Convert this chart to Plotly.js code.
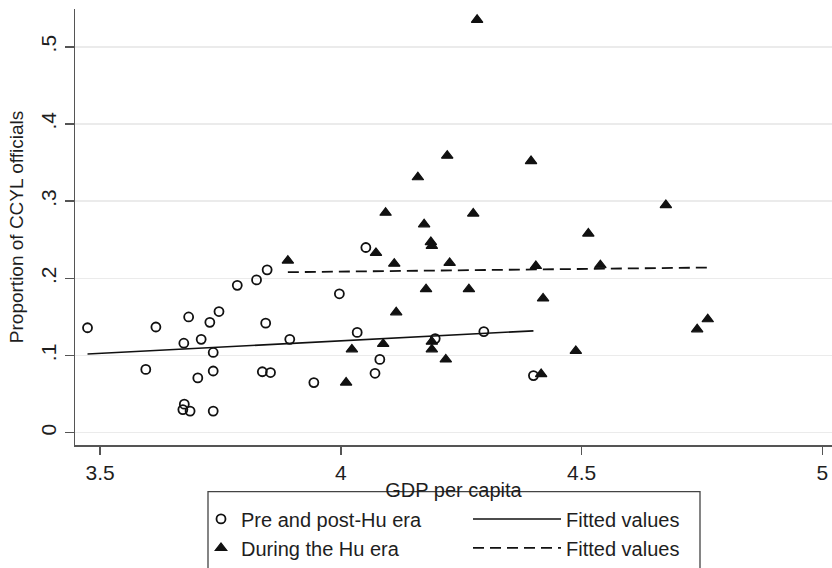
<!DOCTYPE html>
<html>
<head>
<meta charset="utf-8">
<script src="https://cdn.plot.ly/plotly-3.0.1.min.js"></script>
<style>html,body{margin:0;padding:0;background:#fff;}#chart{width:832px;height:568px;}</style>
</head>
<body>
<div id="chart"></div>
<script>
// Pre and post-Hu era (circles)
const preX = [3.474, 3.616, 3.595, 3.684, 3.674, 3.710, 3.728, 3.747, 3.735, 3.735, 3.703, 3.675, 3.672, 3.687, 3.735,
              3.785, 3.825, 3.847, 3.844, 3.894, 3.837, 3.854, 3.944, 3.997, 4.052, 4.034, 4.081, 4.071, 4.196, 4.297, 4.400];
const preY = [0.136, 0.137, 0.082, 0.150, 0.116, 0.121, 0.143, 0.157, 0.104, 0.080, 0.071, 0.037, 0.030, 0.028, 0.028,
              0.191, 0.198, 0.211, 0.142, 0.121, 0.079, 0.078, 0.065, 0.180, 0.240, 0.130, 0.095, 0.077, 0.122, 0.131, 0.074];
// During the Hu era (triangles)
const huX = [4.283, 4.221, 4.395, 4.160, 4.093, 4.275, 4.173, 4.187, 4.189, 4.073, 4.111, 4.226, 4.405, 4.177, 4.266,
             4.420, 4.115, 4.088, 4.023, 4.189, 4.189, 4.218, 4.011, 4.416, 3.890, 4.675, 4.514, 4.539, 4.762, 4.740, 4.488];
const huY = [0.535, 0.359, 0.352, 0.331, 0.285, 0.284, 0.270, 0.247, 0.242, 0.233, 0.219, 0.220, 0.216, 0.186, 0.186,
             0.174, 0.156, 0.115, 0.108, 0.118, 0.108, 0.095, 0.065, 0.076, 0.223, 0.295, 0.258, 0.217, 0.147, 0.134, 0.106];
// Fitted values
const fitPreX = [3.474, 4.400];
const fitPreY = [0.102, 0.132];
const fitHuX = [3.890, 4.762];
const fitHuY = [0.208, 0.214];
// Tick labels
const xTickVals = [3.5, 4, 4.5, 5];
const xTickText = ['3.5', '4', '4.5', '5'];
const yTickVals = [0, 0.1, 0.2, 0.3, 0.4, 0.5];
const yTickText = ['0', '.1', '.2', '.3', '.4', '.5'];

const FONT = 'Liberation Sans, Arial, Helvetica, sans-serif';
const TXT = '#1e1e1e';

const traces = [
  {x: fitPreX, y: fitPreY, type: 'scatter', mode: 'lines', name: 'Fitted values',
   line: {color: '#111', width: 1.6}, legend: 'legend2', legendrank: 1},
  {x: fitHuX, y: fitHuY, type: 'scatter', mode: 'lines', name: 'Fitted values',
   line: {color: '#111', width: 1.8, dash: '11px,6px'}, legend: 'legend2', legendrank: 2},
  {x: preX, y: preY, type: 'scatter', mode: 'markers', name: 'Pre and post-Hu era',
   marker: {symbol: 'circle-open', size: 9, color: '#111', line: {width: 1.8, color: '#111'}}, legendrank: 1},
  {x: huX, y: huY, type: 'scatter', mode: 'markers', name: 'During the Hu era',
   marker: {symbol: 'triangle-up', size: 10, color: '#111', line: {width: 1.2, color: '#111'}}, legendrank: 2}
];

const plotL = 75, plotR = 0, plotT = 9, plotB = 114.5;
const W = 832, H = 568;
const pw = W - plotL - plotR, ph = H - plotT - plotB;
const px = v => (v - plotL) / pw;
const py = v => (H - plotB - v) / ph;

const layout = {
  width: W, height: H,
  margin: {l: plotL, r: plotR, t: plotT, b: plotB, pad: 0},
  paper_bgcolor: '#fff', plot_bgcolor: '#fff',
  font: {family: FONT, size: 20, color: TXT},
  showlegend: true,
  xaxis: {
    range: [3.448, 5.02], tickvals: xTickVals, ticktext: xTickText,
    showline: true, linecolor: '#555', linewidth: 1.5, mirror: false,
    ticks: 'outside', ticklen: 8, tickwidth: 1.5, tickcolor: '#555',
    showgrid: false, zeroline: false, tickfont: {size: 21, color: TXT},
    title: {text: 'GDP per capita', font: {size: 20, color: TXT}, standoff: 0},
    automargin: false
  },
  yaxis: {
    range: [-0.0159, 0.549], tickvals: yTickVals, ticktext: yTickText, tickangle: -90,
    showline: true, linecolor: '#555', linewidth: 1.5,
    ticks: 'outside', ticklen: 9, tickwidth: 1.5, tickcolor: '#555',
    showgrid: true, gridcolor: '#ebebeb', gridwidth: 1.5, zeroline: false,
    tickfont: {size: 21, color: TXT},
    title: {text: 'Proportion of CCYL officials', font: {size: 19, color: TXT}, standoff: 8},
    automargin: false
  },
  legend: {
    orientation: 'v', x: px(201), xanchor: 'left', y: py(509), yanchor: 'top',
    bgcolor: 'rgba(0,0,0,0)', borderwidth: 0, font: {size: 20, color: TXT},
    tracegroupgap: 0, traceorder: 'normal'
  },
  legend2: {
    orientation: 'v', x: px(468), xanchor: 'left', y: py(509), yanchor: 'top', itemwidth: 88,
    bgcolor: 'rgba(0,0,0,0)', borderwidth: 0, font: {size: 20, color: TXT},
    tracegroupgap: 0, traceorder: 'normal'
  },
  shapes: [
    {type: 'rect', xref: 'paper', yref: 'paper', x0: px(208), x1: px(700), y0: py(501), y1: py(600),
     line: {color: '#444', width: 1.3}, fillcolor: 'rgba(0,0,0,0)', layer: 'below'}
  ]
};

Plotly.newPlot('chart', traces, layout, {displayModeBar: false, staticPlot: true});
</script>
</body>
</html>
